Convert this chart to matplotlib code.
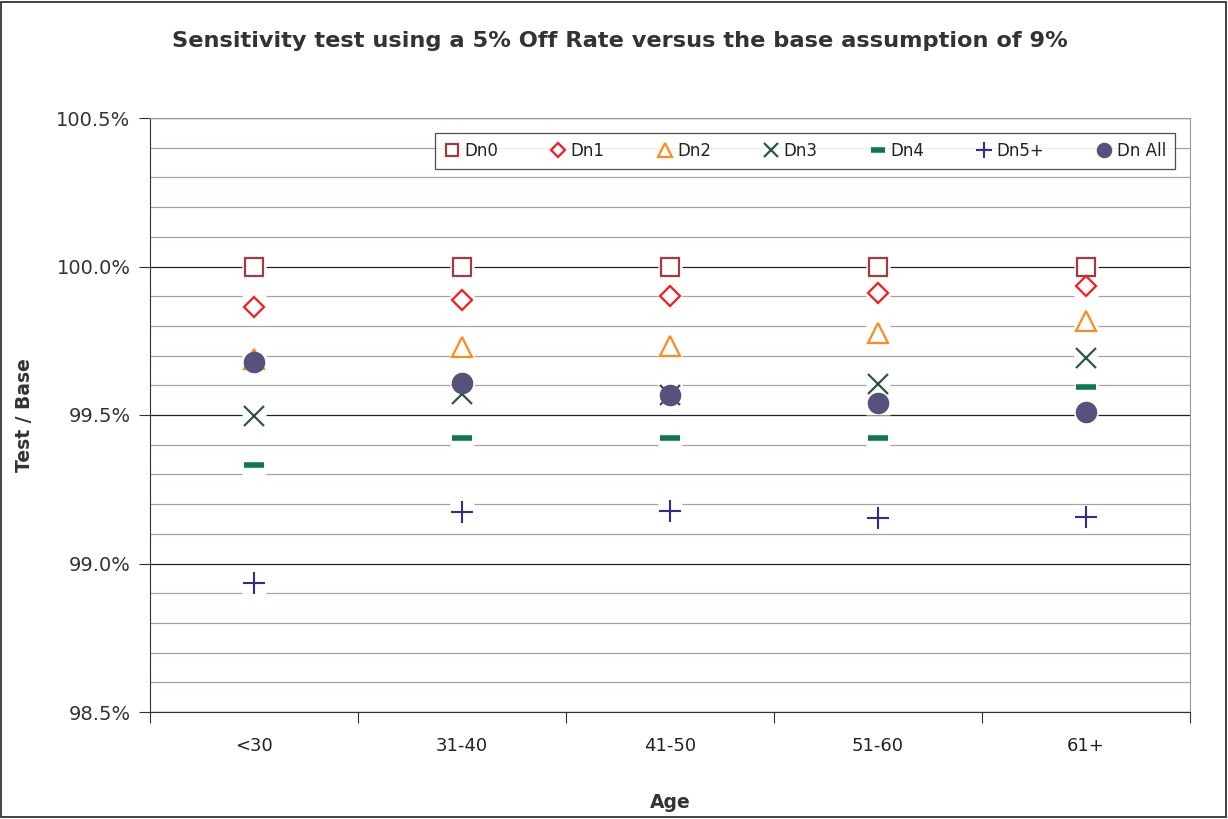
import matplotlib.pyplot as plt
from matplotlib.patches import Rectangle
from matplotlib.ticker import MultipleLocator, FuncFormatter
import numpy as np

# age bands and test/base ratios (%)
ages = ["<30", "31-40", "41-50", "51-60", "61+"]
dn0 = [100.0, 100.0, 100.0, 100.0, 100.0]
dn1 = [99.865, 99.886, 99.899, 99.911, 99.933]
dn2 = [99.69, 99.73, 99.734, 99.775, 99.818]
dn3 = [99.495, 99.572, 99.566, 99.603, 99.691]
dn4 = [99.333, 99.424, 99.424, 99.424, 99.594]
dn5 = [98.933, 99.173, 99.178, 99.153, 99.158]
dn_all = [99.678, 99.607, 99.566, 99.539, 99.509]

series = [
    ("Dn0", dn0, dict(marker="s", ms=13, mfc="white", mec="#a33c40", mew=1.6)),
    ("Dn1", dn1, dict(marker="D", ms=10.5, mfc="white", mec="#ff1a1a", mew=1.6)),
    ("Dn2", dn2, dict(marker="^", ms=15, mfc="white", mec="#ff8a1e", mew=1.6)),
    ("Dn3", dn3, dict(marker="x", ms=15, mec="#2b5844", mew=1.6)),
    ("Dn4", dn4, dict(marker="_", ms=15, mec="#0a7a48", mew=4)),
    ("Dn5+", dn5, dict(marker="+", ms=16, mec="#2c2c9c", mew=1.5)),
    ("Dn All", dn_all, dict(marker="o", ms=14.5, mfc="#57517e", mec="#57517e", mew=1)),
]

fig = plt.figure(figsize=(12.28, 8.19), dpi=100)
ax = fig.add_axes([150 / 1228, 107 / 819, 1040 / 1228, 594 / 819])

x = np.arange(len(ages))

# white patch behind every marker so the gridlines stop short of it
for name, vals, st in series:
    ax.plot(x, vals, ls="none", marker="s", ms=17, mfc="white", mec="none", zorder=2)

handles = []
for name, vals, st in series:
    h, = ax.plot(x, vals, ls="none", label=name, zorder=3, **st)
    handles.append(h)

ax.set_xlim(-0.5, 4.5)
ax.set_ylim(98.5, 100.5)
ax.set_xticks(np.arange(-0.5, 5, 1))
ax.set_xticklabels([])
ax.set_xticks(x, minor=True)
ax.set_xticklabels(ages, minor=True, fontsize=13, color="#222222")
ax.tick_params(axis="x", which="major", direction="out", length=8, color="#333333")
ax.tick_params(axis="x", which="minor", length=0, pad=18)

ax.yaxis.set_major_locator(MultipleLocator(0.5))
ax.yaxis.set_minor_locator(MultipleLocator(0.1))
ax.yaxis.set_major_formatter(FuncFormatter(lambda v, p: f"{v:.1f}%"))
ax.tick_params(axis="y", which="major", direction="out", length=8, labelsize=14,
               labelcolor="#333333", color="#333333", pad=6)
ax.tick_params(axis="y", which="minor", length=0)

ax.grid(axis="y", which="major", color="#222222", lw=0.9, zorder=0)
ax.grid(axis="y", which="minor", color="#ad9f9c", lw=0.9, zorder=0)
ax.set_axisbelow(True)

for side in ["top", "right"]:
    ax.spines[side].set_color("#9a9a9a")
for side in ["left", "bottom"]:
    ax.spines[side].set_color("#333333")

ax.set_ylabel("Test / Base", fontsize=13.5, fontweight="bold", color="#333333", labelpad=16)
ax.set_xlabel("Age", fontsize=13.5, fontweight="bold", color="#333333", labelpad=27)

fig.suptitle("Sensitivity test using a 5% Off Rate versus the base assumption of 9%",
             x=0.505, y=0.962, fontsize=16.2, fontweight="bold", color="#333333")

leg = ax.legend(handles=handles, ncol=7, loc="upper left",
                bbox_to_anchor=(435 / 1228, 1 - 133 / 819), bbox_transform=fig.transFigure,
                fontsize=12, markerscale=0.7, handlelength=0.9, handletextpad=0.3,
                columnspacing=3.15, frameon=True, fancybox=False, borderpad=0.55,
                borderaxespad=0)
leg.get_frame().set_edgecolor("#222222")
leg.get_frame().set_linewidth(0.9)
for t in leg.get_texts():
    t.set_color("#222222")

# outer chart border
fig.patches.append(Rectangle((0.001, 0.002), 0.997, 0.996, transform=fig.transFigure,
                             fill=False, ec="#222222", lw=1.2))

fig.savefig("out.png", dpi=100)
